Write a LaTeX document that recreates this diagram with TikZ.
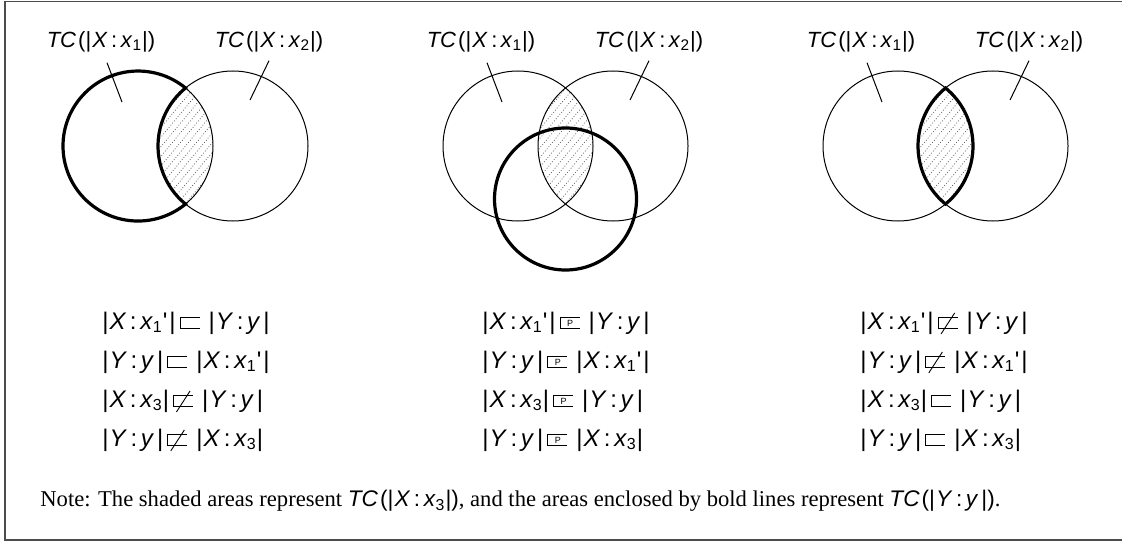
\documentclass[tikz,border=0pt]{standalone}
\usepackage{fontspec}
\setmainfont{Liberation Serif}
\newfontfamily\hvfont{Liberation Sans}
\usepackage{graphicx}
\usetikzlibrary{calc}

% relation symbols (square subset, not subset, partial)
\newcommand{\sqbox}[1]{\hbox{\vrule width .5pt height 6pt depth 0pt\vbox to 6pt{\hrule width 9.5pt height .5pt\vfil\hbox to 9.5pt{\hss#1\hss}\vfil\hrule height .5pt}}}
\newcommand{\subrel}{\kern2pt\sqbox{}\kern4.5pt}
\newcommand{\nsubrel}{\kern2pt\makebox[0pt][l]{\hspace{1.5pt}\raisebox{-2.5pt}{\rotatebox{57}{\rule{12.5pt}{.45pt}}}}\sqbox{}\kern4.5pt}
\newcommand{\psubrel}{\kern2pt\sqbox{\fontsize{4.5}{5}\selectfont P}\kern4.5pt}
% set terms
\newcommand{\vX}[1]{|\kern.5pt\textit{X}\kern1.8pt:\kern1.8pt\textit{x}\textsubscript{#1}|}
\newcommand{\vXp}{|\kern.5pt\textit{X}\kern1.8pt:\kern1.8pt\textit{x}\textsubscript{1}'\kern1pt|}
\newcommand{\vY}{|\kern.5pt\textit{Y}\kern1.8pt:\kern1.8pt\textit{y}\kern1.5pt|}
\newcommand{\tcof}[1]{\textit{TC}\kern1pt(#1)}

\tikzset{
  thincirc/.style={line width=0.5pt},
  boldline/.style={line width=1.6pt},
  lab/.style={font=\hvfont\fontsize{11}{13}\selectfont, inner sep=0pt},
  rel/.style={font=\hvfont\fontsize{12}{14}\selectfont, inner sep=0pt, anchor=west},
  hatch/.style={dash pattern=on 0.4pt off 1pt, black!70, line width=0.35pt},
  frameline/.style={black!70, line width=0.6pt}
}

\begin{document}
\begin{tikzpicture}[x=0.5pt, y=0.5pt]
\useasboundingbox (0,0) rectangle (1122,542);

% frame
\draw[frameline] (1122,540.5) -- (5,540.5) -- (5,2) -- (1122,2);

% === three Venn panels ===
\foreach \dx/\nm in {0/a, 380/b, 760/c} {
  % shaded overlap
  \begin{scope}
    \clip (138+\dx,396) circle[radius=75];
    \clip (233+\dx,396) circle[radius=75];
    \foreach \k in {-128,-120,...,128}
      \draw[hatch] (125.5+\dx+\k,324) -- ++(120,144);
  \end{scope}
  % thin circles
  \draw[thincirc] (138+\dx,396) circle[radius=75];
  \draw[thincirc] (233+\dx,396) circle[radius=75];
  % labels
  \node[lab] (la\nm) at (101+\dx,500) {\tcof{\vX{1}}};
  \node[lab] (lb\nm) at (269+\dx,500) {\tcof{\vX{2}}};
  \coordinate (pa\nm) at (122+\dx,440);
  \coordinate (pb\nm) at (250+\dx,442);
  \draw[thincirc] ([xshift=3pt,yshift=-5pt]la\nm.south) -- (pa\nm);
  \draw[thincirc] ([xshift=0pt,yshift=-4pt]lb\nm.south) -- (pb\nm);
}

% bold outlines
\draw[boldline] (185.5,454) arc[start angle=50.7, end angle=309.3, radius=75]
  arc[start angle=230.7, end angle=129.3, radius=75] -- cycle;
\draw[boldline] (565.5,343) circle[radius=71];
\draw[boldline] (945.5,454) arc[start angle=129.3, end angle=230.7, radius=75]
  arc[start angle=-50.7, end angle=50.7, radius=75] -- cycle;

% === relations ===
\node[rel] (r1a) at (102,219) {\vXp\subrel\vY};
\node[rel] (r2a) at (102,180) {\vY\subrel\vXp};
\node[rel] (r3a) at (102,141) {\vX{3}\nsubrel\vY};
\node[rel] (r4a) at (102,102) {\vY\nsubrel\vX{3}};

\node[rel] (r1b) at (482,219) {\vXp\psubrel\vY};
\node[rel] (r2b) at (482,180) {\vY\psubrel\vXp};
\node[rel] (r3b) at (482,141) {\vX{3}\psubrel\vY};
\node[rel] (r4b) at (482,102) {\vY\psubrel\vX{3}};

\node[rel] (r1c) at (860,219) {\vXp\nsubrel\vY};
\node[rel] (r2c) at (860,180) {\vY\nsubrel\vXp};
\node[rel] (r3c) at (860,141) {\vX{3}\subrel\vY};
\node[rel] (r4c) at (860,102) {\vY\subrel\vX{3}};

% note
\node[anchor=west, inner sep=0pt, font=\fontsize{11.3}{13}\selectfont] (note) at (40,41)
  {Note: The shaded areas represent {\hvfont\tcof{\vX{3}}}, and the areas enclosed by bold lines represent {\hvfont\tcof{\vY}}.};

\end{tikzpicture}
\end{document}
